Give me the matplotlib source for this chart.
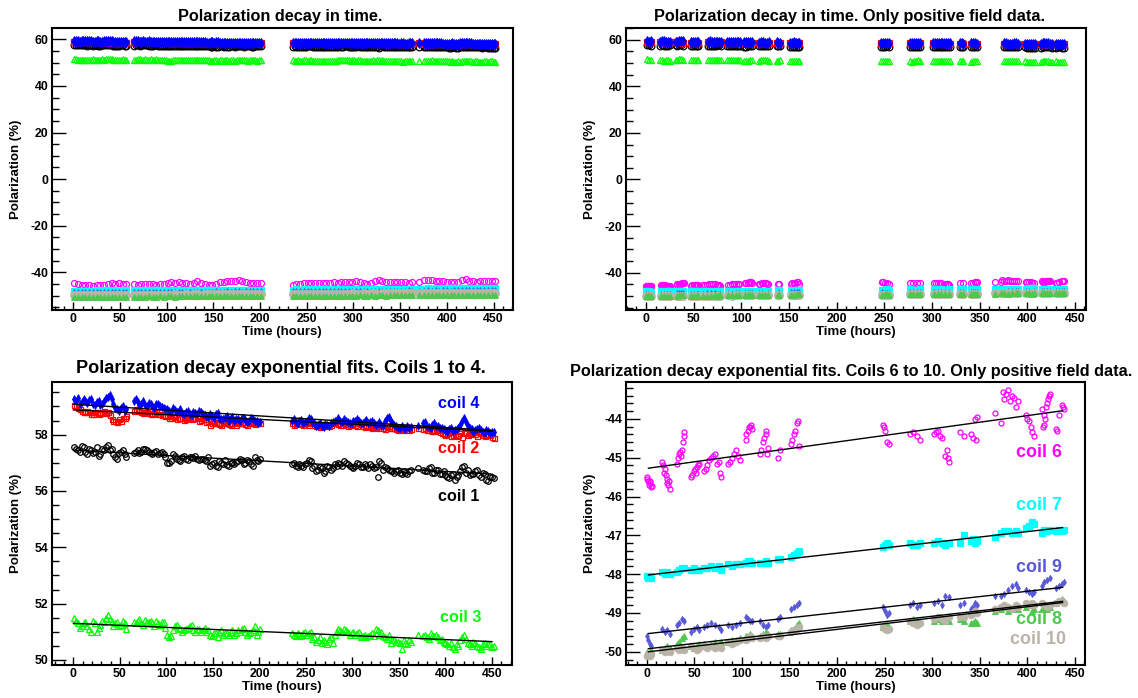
import numpy as np
import matplotlib.pyplot as plt
from matplotlib.ticker import MultipleLocator

plt.rcParams['font.family'] = ['Liberation Sans', 'DejaVu Sans']
plt.rcParams['font.weight'] = 'bold'
plt.rcParams['axes.unicode_minus'] = False

# ---- data: coils 1-4, all runs (hours) ----
full_t = [1, 5, 9, 13, 17, 21, 25, 29, 33, 37, 41, 45, 49, 53, 57,
          65, 69, 73, 77, 81, 85, 89, 93, 97, 101, 105, 109, 113, 117, 121, 125, 129, 133, 137, 141,
          145, 149, 153, 157, 161, 165, 169, 173, 177, 181, 185, 189, 193, 197, 201,
          235, 239, 243, 247, 251, 255, 259, 263, 267, 271, 275, 279, 283, 287, 291, 295, 299,
          303, 307, 311, 315, 319, 323, 327, 331, 335, 339, 343, 347, 351, 355, 359, 363,
          370, 376, 380, 384, 388, 392, 396, 400, 404, 408, 412, 416, 420, 424, 428, 432, 436, 440,
          444, 448, 452]

coil1 = [57.55, 57.45, 57.6, 57.4, 57.5, 57.35, 57.55, 57.3, 57.45, 57.62, 57.5, 57.2, 57.35, 57.45, 57.2,
         57.35, 57.45, 57.4, 57.5, 57.38, 57.3, 57.42, 57.35, 57.3, 57.0, 57.05, 57.25, 57.1, 57.2, 57.15,
         57.22, 57.18, 57.15, 57.12, 57.1, 57.2, 56.95, 56.9, 57.05, 56.95, 56.92, 57.0, 56.95, 57.05, 57.1,
         57.0, 57.05, 56.9, 57.1, 57.15,
         56.95, 56.9, 56.95, 56.85, 57.0, 57.05, 56.9, 56.75, 56.8, 56.7, 56.85, 56.8, 56.9, 56.95, 57.05,
         56.95, 56.85, 56.9, 56.95, 56.85, 56.9, 56.95, 56.8, 56.5, 57.0, 56.85, 56.75, 56.7, 56.72, 56.65,
         56.7, 56.6, 56.75,
         56.8, 56.75, 56.7, 56.85, 56.65, 56.75, 56.6, 56.55, 56.45, 56.6, 56.5, 56.7, 56.9, 56.75, 56.6,
         56.7, 56.55, 56.65, 56.4, 56.5, 56.45]
coil2 = [59.05, 58.95, 58.85, 58.8, 58.82, 58.75, 58.8, 58.78, 58.85, 58.8, 58.55, 58.5, 58.55, 58.6, 58.65,
         58.85, 58.9, 58.82, 58.8, 58.78, 58.75, 58.8, 58.72, 58.7, 58.65, 58.6, 58.62, 58.58, 58.6, 58.55,
         58.62, 58.58, 58.6, 58.52, 58.55, 58.48, 58.4, 58.45, 58.38, 58.42, 58.4, 58.35, 58.45, 58.4, 58.42,
         58.38, 58.45, 58.4, 58.42, 58.4,
         58.4, 58.38, 58.42, 58.35, 58.4, 58.45, 58.35, 58.3, 58.32, 58.35, 58.3, 58.4, 58.42, 58.35, 58.4,
         58.32, 58.38, 58.35, 58.4, 58.3, 58.35, 58.28, 58.3, 58.25, 58.35, 58.2, 58.3, 58.25, 58.2, 58.22,
         58.18, 58.25, 58.2,
         58.25, 58.2, 58.15, 58.18, 58.12, 58.15, 58.05, 58.0, 58.08, 57.98, 57.95, 58.05, 58.1, 58.0, 58.05,
         58.02, 58.1, 58.0, 57.98, 58.0, 57.88]
coil3 = [51.5, 51.3, 51.2, 51.35, 51.1, 51.4, 51.0, 51.25, 51.35, 51.6, 51.4, 51.3, 51.2, 51.4, 51.1,
         51.35, 51.4, 51.3, 51.42, 51.35, 51.3, 51.38, 51.25, 51.35, 50.9, 50.85, 51.2, 51.15, 51.0, 51.1,
         51.2, 51.05, 51.1, 51.0, 51.15, 51.05, 50.85, 50.95, 51.0, 50.9, 50.95, 51.0, 50.9, 51.05, 51.1,
         51.0, 50.95, 51.05, 50.9, 51.1,
         50.95, 50.85, 50.9, 50.95, 50.9, 51.0, 50.8, 50.7, 50.6, 50.65, 50.75, 50.6, 51.0, 51.05, 51.1,
         51.0, 50.95, 50.9, 51.0, 50.85, 50.8, 50.9, 50.85, 51.05, 51.0, 50.8, 50.9, 50.7, 50.65, 50.6,
         50.7, 50.55, 50.65,
         50.9, 50.85, 50.8, 50.95, 50.85, 50.8, 50.75, 50.6, 50.5, 50.45, 50.55, 50.7, 50.9, 50.6, 50.5,
         50.6, 50.45, 50.55, 50.5, 50.55, 50.5]
coil4 = [59.25, 59.3, 59.15, 59.2, 59.22, 59.1, 59.15, 59.05, 59.2, 59.35, 59.25, 58.95, 58.85, 59.0, 58.9,
         59.2, 59.15, 59.1, 59.05, 59.12, 59.0, 59.08, 59.02, 58.95, 58.9, 58.82, 58.88, 58.85, 58.78, 58.8,
         58.72, 58.8, 58.75, 58.82, 58.7, 58.62, 58.68, 58.72, 58.6, 58.55, 58.65, 58.58, 58.5, 58.55, 58.6,
         58.52, 58.48, 58.55, 58.5, 58.45,
         58.5, 58.45, 58.48, 58.42, 58.5, 58.55, 58.4, 58.35, 58.3, 58.38, 58.32, 58.45, 58.52, 58.5, 58.55,
         58.45, 58.42, 58.5, 58.48, 58.4, 58.52, 58.45, 58.4, 58.38, 58.35, 58.5, 58.62, 58.4, 58.3, 58.25,
         58.22, 58.3, 58.28,
         58.3, 58.4, 58.32, 58.25, 58.4, 58.3, 58.22, 58.15, 58.2, 58.12, 58.2, 58.35, 58.58, 58.3, 58.2,
         58.15, 58.22, 58.1, 58.15, 58.05, 58.1]

# in-between readings of coils 1-4
mid_t = [3, 7, 11, 15, 19, 23, 27, 31, 35, 39, 43, 47, 51, 55,
         67, 71, 75, 79, 83, 87, 91, 95, 99, 103, 107, 111, 115, 119, 123, 127, 131, 135, 139, 143,
         147, 151, 155, 159, 163, 167, 171, 175, 179, 183, 187, 191, 195, 199,
         237, 241, 245, 249, 253, 257, 261, 265, 269, 273, 277, 281, 285, 289, 293, 297, 301, 305,
         309, 313, 317, 321, 325, 329, 333, 337, 341, 345, 349, 353, 357, 361,
         378, 382, 386, 390, 394, 398, 402, 406, 410, 414, 418, 422, 426, 430, 434, 438, 442, 446, 450]
coil1_mid = [57.5, 57.4, 57.55, 57.3, 57.45, 57.4, 57.25, 57.5, 57.55, 57.45, 57.3, 57.15, 57.4, 57.3,
             57.4, 57.35, 57.5, 57.45, 57.35, 57.4, 57.3, 57.38, 57.2, 56.98, 57.3, 57.15, 57.05, 57.25,
             57.1, 57.2, 57.25, 57.1, 57.15, 57.05, 56.9, 57.0, 56.85, 57.0, 57.1, 56.9, 56.98, 57.02,
             57.15, 56.95, 57.1, 56.95, 57.2, 57.05,
             57.0, 56.85, 56.9, 56.95, 57.1, 56.8, 56.7, 56.85, 56.65, 56.9, 56.75, 56.95, 57.0, 56.9,
             57.0, 56.9, 56.8, 57.0, 56.85, 56.95, 56.8, 56.9, 56.85, 57.05, 56.75, 56.8, 56.7, 56.65,
             56.75, 56.6, 56.65, 56.7,
             56.7, 56.8, 56.65, 56.75, 56.6, 56.7, 56.5, 56.55, 56.4, 56.55, 56.85, 56.65, 56.55, 56.6,
             56.75, 56.5, 56.6, 56.35, 56.5]
coil2_mid = [59.0, 58.9, 58.8, 58.85, 58.75, 58.8, 58.72, 58.82, 58.78, 58.7, 58.5, 58.45, 58.5, 58.6,
             58.9, 58.85, 58.78, 58.82, 58.72, 58.78, 58.75, 58.7, 58.68, 58.6, 58.65, 58.55, 58.6, 58.52,
             58.6, 58.55, 58.58, 58.5, 58.55, 58.45, 58.35, 58.42, 58.4, 58.35, 58.45, 58.38, 58.42, 58.35,
             58.4, 58.45, 58.35, 58.4, 58.38, 58.45,
             58.35, 58.42, 58.38, 58.4, 58.35, 58.4, 58.32, 58.28, 58.38, 58.32, 58.35, 58.45, 58.38, 58.35,
             58.38, 58.35, 58.4, 58.32, 58.38, 58.28, 58.32, 58.25, 58.28, 58.32, 58.22, 58.28, 58.22, 58.25,
             58.18, 58.2, 58.22, 58.15,
             58.22, 58.18, 58.12, 58.2, 58.1, 58.02, 58.05, 57.95, 58.02, 57.98, 57.92, 58.05, 58.02, 58.08,
             57.95, 58.05, 57.95, 58.02, 57.9]
coil3_mid = [51.4, 51.15, 51.3, 51.2, 51.0, 51.3, 51.15, 51.4, 51.5, 51.45, 51.2, 51.35, 51.25, 51.3,
             51.3, 51.45, 51.25, 51.35, 51.4, 51.2, 51.3, 51.35, 51.15, 50.8, 51.05, 51.25, 51.1, 51.05,
             51.15, 51.25, 51.0, 51.1, 51.05, 51.0, 50.9, 50.95, 50.8, 51.05, 50.95, 50.9, 51.05, 50.95,
             51.0, 51.15, 50.9, 51.0, 51.2, 51.0,
             50.9, 50.95, 50.85, 51.0, 50.95, 50.75, 50.65, 50.8, 50.7, 50.55, 50.8, 50.9, 51.1, 51.0,
             51.05, 50.9, 51.0, 50.95, 50.8, 50.9, 50.85, 50.95, 51.1, 50.9, 50.85, 50.75, 50.6, 50.7,
             50.65, 50.4, 50.6, 50.7,
             50.9, 50.75, 50.85, 50.9, 50.7, 50.65, 50.55, 50.6, 50.4, 50.5, 50.8, 50.75, 50.55, 50.65,
             50.5, 50.4, 50.6, 50.55, 50.45]
coil4_mid = [59.2, 59.1, 59.25, 59.12, 59.28, 59.05, 59.2, 59.1, 59.3, 59.4, 59.1, 58.9, 58.95, 58.85,
             59.25, 59.05, 59.18, 59.0, 59.08, 58.95, 59.1, 58.98, 58.92, 58.85, 58.95, 58.8, 58.9, 58.75,
             58.85, 58.7, 58.78, 58.85, 58.72, 58.65, 58.75, 58.6, 58.78, 58.55, 58.6, 58.5, 58.62, 58.55,
             58.48, 58.58, 58.45, 58.6, 58.5, 58.4,
             58.55, 58.4, 58.52, 58.45, 58.58, 58.45, 58.32, 58.4, 58.28, 58.35, 58.4, 58.48, 58.6, 58.45,
             58.5, 58.4, 58.48, 58.55, 58.42, 58.48, 58.4, 58.5, 58.35, 58.45, 58.3, 58.58, 58.5, 58.35,
             58.22, 58.3, 58.2, 58.25,
             58.45, 58.28, 58.35, 58.32, 58.25, 58.2, 58.1, 58.25, 58.15, 58.25, 58.5, 58.45, 58.25, 58.1,
             58.2, 58.15, 58.05, 58.12, 58.08]

# ---- coils 6-10, all runs ----
coil6_all = [-44.8, -45.0, -45.3, -45.5, -45.6, -45.7, -45.6, -45.4, -45.3, -45.0, -44.8, -44.9, -44.8, -45.0, -45.2,
             -45.2, -45.3, -45.1, -45.2, -45.0, -45.1, -45.3, -45.0, -44.9, -44.6, -44.3, -44.5, -44.2, -44.7, -44.4,
             -44.9, -44.8, -43.9, -44.5, -45.2, -45.4, -45.3, -44.9, -44.3, -44.0, -43.8, -43.6, -43.7, -43.5, -43.8,
             -44.1, -44.4, -44.6, -44.5, -44.7,
             -45.3, -45.2, -45.0, -44.8, -44.6, -44.5, -44.6, -44.4, -44.5, -44.6, -44.5, -44.3, -44.4, -44.3, -44.2,
             -44.1, -44.0, -43.8, -44.2, -44.6, -45.0, -44.4, -43.6, -43.2, -43.9, -44.2, -44.3, -44.1, -44.0, -44.2,
             -44.3, -44.4, -44.2,
             -44.1, -43.4, -43.3, -43.5, -43.6, -43.8, -43.9, -44.0, -44.1, -44.2, -44.0, -43.5, -43.0, -43.6, -43.9,
             -44.0, -43.8, -43.7, -43.9, -43.8, -43.7]
coil7_all = [-47.9, -48.0, -47.9, -48.0, -47.9, -47.9, -47.8, -47.9, -47.8, -47.8, -47.9, -47.8, -47.9, -47.8, -47.8,
             -47.8, -47.9, -47.8, -47.8, -47.7, -47.8, -47.7, -47.7, -47.8, -47.7, -47.6, -47.7, -47.6, -47.7, -47.6,
             -47.6, -47.7, -47.6, -47.5, -47.6, -47.6, -47.5, -47.5, -47.6, -47.5, -47.5, -47.4, -47.5, -47.4, -47.5,
             -47.4, -47.4, -47.5, -47.4, -47.4,
             -47.4, -47.3, -47.4, -47.3, -47.3, -47.4, -47.3, -47.3, -47.2, -47.3, -47.3, -47.2, -47.3, -47.2, -47.2,
             -47.3, -47.2, -47.2, -47.1, -47.2, -47.2, -47.3, -47.1, -47.2, -47.1, -47.2, -47.1, -47.1, -47.2, -47.1,
             -47.1, -47.0, -47.1,
             -47.1, -47.0, -46.9, -47.0, -46.9, -47.0, -46.9, -46.8, -46.9, -46.8, -46.9, -46.9, -46.8, -46.9, -46.8,
             -46.9, -46.8, -46.8, -46.9, -46.8, -46.8]
coil8_all = [-50.6, -50.7, -50.6, -50.6, -50.7, -50.6, -50.6, -50.5, -50.6, -50.6, -50.5, -50.6, -50.5, -50.6, -50.5,
             -50.5, -50.6, -50.5, -50.5, -50.4, -50.5, -50.5, -50.4, -50.5, -50.4, -50.4, -50.5, -50.4, -50.4, -50.3,
             -50.4, -50.4, -50.3, -50.4, -50.3, -50.3, -50.4, -50.3, -50.3, -50.2, -50.3, -50.3, -50.2, -50.3, -50.2,
             -50.2, -50.3, -50.2, -50.2, -50.2,
             -50.2, -50.1, -50.2, -50.1, -50.1, -50.2, -50.1, -50.1, -50.0, -50.1, -50.1, -50.0, -50.1, -50.0, -50.0,
             -50.1, -50.0, -50.0, -49.9, -50.0, -50.0, -49.9, -50.0, -49.9, -49.9, -50.0, -49.9, -49.9, -49.8, -49.9,
             -49.9, -49.8, -49.9,
             -49.9, -49.8, -49.9, -49.8, -49.8, -49.9, -49.8, -49.8, -49.7, -49.8, -49.8, -49.7, -49.8, -49.7, -49.7,
             -49.8, -49.7, -49.7, -49.7, -49.6, -49.7]
coil9_all = [-49.1, -49.0, -49.1, -49.0, -49.0, -49.1, -49.0, -48.9, -49.0, -48.9, -49.0, -48.9, -49.0, -48.9, -48.9,
             -48.9, -49.0, -48.9, -48.9, -48.8, -48.9, -48.9, -48.8, -48.8, -48.9, -48.8, -48.8, -48.7, -48.8, -48.8,
             -48.7, -48.8, -48.7, -48.7, -48.8, -48.7, -48.7, -48.6, -48.7, -48.7, -48.6, -48.7, -48.6, -48.6, -48.7,
             -48.6, -48.6, -48.5, -48.6, -48.6,
             -48.6, -48.5, -48.6, -48.5, -48.5, -48.6, -48.5, -48.5, -48.4, -48.5, -48.5, -48.4, -48.5, -48.4, -48.4,
             -48.5, -48.4, -48.4, -48.4, -48.3, -48.4, -48.4, -48.3, -48.4, -48.3, -48.4, -48.3, -48.3, -48.4, -48.3,
             -48.3, -48.2, -48.3,
             -48.3, -48.3, -48.2, -48.3, -48.2, -48.3, -48.2, -48.2, -48.3, -48.2, -48.2, -48.1, -48.2, -48.2, -48.1,
             -48.2, -48.1, -48.2, -48.1, -48.1, -48.2]
coil10_all = [-49.8, -49.9, -49.8, -49.9, -49.8, -49.8, -49.9, -49.8, -49.8, -49.7, -49.8, -49.7, -49.8, -49.7, -49.8,
              -49.7, -49.8, -49.7, -49.7, -49.6, -49.7, -49.7, -49.6, -49.7, -49.6, -49.6, -49.5, -49.6, -49.6, -49.5,
              -49.6, -49.5, -49.5, -49.6, -49.5, -49.5, -49.4, -49.5, -49.5, -49.4, -49.5, -49.4, -49.4, -49.5, -49.4,
              -49.4, -49.3, -49.4, -49.4, -49.3,
              -49.4, -49.3, -49.4, -49.3, -49.3, -49.4, -49.3, -49.2, -49.3, -49.3, -49.2, -49.3, -49.2, -49.2, -49.3,
              -49.2, -49.1, -49.2, -49.2, -49.1, -49.2, -49.1, -49.1, -49.2, -49.1, -49.1, -49.0, -49.1, -49.1, -49.0,
              -49.1, -49.0, -49.0,
              -49.0, -49.0, -48.9, -49.0, -48.9, -48.9, -49.0, -48.9, -48.9, -48.8, -48.9, -48.9, -48.8, -48.9, -48.8,
              -48.8, -48.9, -48.8, -48.8, -48.8, -48.7]

# ---- positive field runs ----
pos_windows = [(0, 6), (15, 26), (31, 40), (46, 56), (59, 79), (85, 99), (103, 112), (118, 130), (137, 142),
               (151, 161), (247, 256), (276, 288), (301, 319), (328, 334), (340, 348), (365, 368), (371, 391),
               (398, 408), (414, 426), (429, 439)]

pos_t = [0.5, 2, 3.5, 5, 16, 19, 22, 25, 32, 34.5, 37, 39, 47, 50, 53, 55, 60, 64, 68, 72, 76, 78,
         86, 90, 94, 98, 104, 106.5, 109, 111, 119, 122, 125, 128, 138, 140, 152, 155, 158, 160,
         248, 250.5, 253, 255, 277, 280, 284, 287, 302, 306, 310, 314, 318, 329, 333, 341, 343, 345, 347,
         366, 372, 376, 380, 384, 388, 390, 399, 402, 405, 407, 415, 418, 421, 424, 430, 433, 436, 438]

coil6 = [-45.5, -45.6, -45.65, -45.75, -45.1, -45.3, -45.55, -45.8, -45.15, -44.9, -44.8, -44.45,
         -45.5, -45.35, -45.25, -45.15, -45.35, -45.2, -45.0, -44.9, -45.1, -45.5,
         -45.15, -45.0, -44.8, -45.05, -44.55, -44.3, -44.2, -44.25, -44.9, -44.6, -44.3, -44.75,
         -45.0, -44.8, -44.65, -44.4, -44.1, -44.7,
         -44.15, -44.3, -44.6, -44.65, -44.4, -44.35, -44.45, -44.55, -44.4, -44.3, -44.5, -44.95, -45.1,
         -44.35, -44.45, -44.4, -44.5, -44.0, -43.95, -43.85, -44.1, -43.5, -43.25, -43.4, -43.7, -43.55,
         -43.9, -44.05, -44.35, -44.45, -43.75, -44.15, -43.6, -43.35, -44.25, -43.9, -43.65, -43.75]
coil7 = [-48.05, -48.1, -48.05, -48.1, -47.95, -48.0, -47.95, -48.0, -47.95, -47.9, -47.85, -47.85,
         -47.9, -47.85, -47.9, -47.9, -47.85, -47.85, -47.8, -47.85, -47.8, -47.9,
         -47.75, -47.8, -47.75, -47.75, -47.7, -47.65, -47.65, -47.7, -47.7, -47.7, -47.65, -47.7,
         -47.6, -47.6, -47.55, -47.5, -47.45, -47.4,
         -47.3, -47.25, -47.2, -47.25, -47.2, -47.25, -47.25, -47.2, -47.2, -47.15, -47.2, -47.25, -47.2,
         -47.2, -47.0, -47.15, -47.1, -47.2, -47.15, -47.05, -46.95, -46.9, -46.9, -46.95, -46.9, -46.95,
         -46.8, -46.75, -46.65, -46.7, -46.95, -46.85, -46.9, -46.85, -46.9, -46.85, -46.9, -46.85]
coil8 = [-50.0, -50.05, -50.0, -49.95, -49.95, -49.9, -49.85, -49.9, -49.8, -49.75, -49.65, -49.6,
         -49.85, -49.9, -49.85, -49.8, -49.8, -49.85, -49.8, -49.75, -49.8, -49.75,
         -49.75, -49.7, -49.7, -49.65, -49.6, -49.6, -49.55, -49.6, -49.6, -49.55, -49.5, -49.55,
         -49.55, -49.55, -49.45, -49.4, -49.3, -49.25,
         -49.35, -49.3, -49.3, -49.35, -49.2, -49.15, -49.2, -49.2, -49.2, -49.15, -49.2, -49.15, -49.2,
         -49.15, -49.2, -49.25, -49.25, -49.2, -49.25, -48.95, -48.9, -48.85, -48.95, -48.9, -48.85, -48.9,
         -48.85, -48.8, -48.95, -48.9, -48.9, -48.85, -48.9, -48.85, -48.75, -48.7, -48.65, -48.7]
coil9 = [-49.6, -49.7, -49.8, -49.85, -49.4, -49.5, -49.45, -49.55, -49.3, -49.25, -49.15, -49.2,
         -49.5, -49.4, -49.35, -49.45, -49.35, -49.3, -49.25, -49.3, -49.35, -49.45,
         -49.3, -49.35, -49.3, -49.25, -49.1, -49.15, -49.2, -49.2, -49.2, -49.3, -49.35, -49.3,
         -49.15, -49.1, -48.9, -48.85, -48.8, -48.75,
         -48.85, -48.95, -49.05, -49.0, -48.8, -48.75, -48.85, -48.8, -48.75, -48.7, -48.8, -48.55, -48.6,
         -48.8, -48.75, -48.9, -48.85, -48.75, -48.8, -48.55, -48.55, -48.5, -48.4, -48.3, -48.25, -48.35,
         -48.4, -48.45, -48.5, -48.45, -48.3, -48.2, -48.15, -48.1, -48.35, -48.3, -48.25, -48.2]
coil10 = [-50.1, -50.05, -50.1, -50.05, -49.95, -50.0, -49.95, -50.0, -49.9, -49.95, -49.9, -49.95,
          -49.85, -49.9, -49.95, -49.9, -49.85, -49.9, -49.85, -49.9, -49.85, -49.9,
          -49.75, -49.8, -49.75, -49.7, -49.7, -49.65, -49.6, -49.65, -49.65, -49.6, -49.65, -49.6,
          -49.6, -49.6, -49.5, -49.45, -49.4, -49.35,
          -49.35, -49.4, -49.45, -49.4, -49.2, -49.25, -49.3, -49.25, -49.15, -49.1, -49.15, -49.2, -49.1,
          -49.1, -49.1, -49.05, -49.0, -48.95, -49.0, -48.9, -48.85, -48.8, -48.85, -48.9, -48.8, -48.85,
          -48.75, -48.8, -48.75, -48.8, -48.75, -48.8, -48.85, -48.8, -48.75, -48.7, -48.7, -48.75]

# extra coil 6 readings inside the runs (streaks)
coil6_x_t = [1, 2.5, 4, 5.5, 17, 18, 20, 21, 23, 24, 33, 35.5, 36, 38, 39.5, 48, 51, 52, 54,
             62, 66, 70, 74, 77, 88, 92, 96, 105, 108, 110, 120, 123, 126, 127, 153, 156, 159,
             249, 304, 308, 316, 317, 346, 374, 378, 382, 386, 400, 404,
             416, 417, 419, 420, 422, 423, 431, 437]
coil6_x = [-45.55, -45.7, -45.6, -45.72, -45.2, -45.4, -45.45, -45.65, -45.7, -45.6,
           -45.0, -44.85, -44.95, -44.6, -44.35, -45.45, -45.3, -45.4, -45.2,
           -45.3, -45.05, -44.95, -45.15, -45.4, -45.1, -44.9, -44.95, -44.4, -44.2, -44.15,
           -44.8, -44.5, -44.4, -44.9, -44.55, -44.3, -44.05,
           -44.2, -44.35, -44.45, -44.8, -45.0, -44.55, -43.3, -43.35, -43.55, -43.45, -44.0, -44.2,
           -44.2, -43.9, -44.0, -43.7, -43.5, -43.4, -44.3, -43.7]

# ---- exponential fit curves (end points) ----
fit_t14 = [0, 450]
fit14 = {'coil 4': [59.08, 58.15], 'coil 2': [58.88, 58.12], 'coil 1': [57.45, 56.6], 'coil 3': [51.3, 50.65]}
fit_t610 = [2, 437]
fit610 = {'coil 6': [-45.27, -43.79], 'coil 7': [-48.02, -46.8], 'coil 9': [-49.53, -48.34],
          'coil 8': [-49.92, -48.7], 'coil 10': [-50.0, -48.73]}

# styles
sty = {
    'coil 1': dict(marker='o', mec='black', mfc='none', ms=4, mew=0.9),
    'coil 2': dict(marker='s', mec='#ff0000', mfc='none', ms=3.6, mew=0.9),
    'coil 3': dict(marker='^', mec='#00ff00', mfc='none', ms=4, mew=0.9),
    'coil 4': dict(marker='d', mec='#0000ff', mfc='#0000ff', ms=4, mew=0.6),
    'coil 6': dict(marker='o', mec='#ff00ff', mfc='none', ms=3.6, mew=0.9),
    'coil 7': dict(marker='s', mec='#00ffff', mfc='#00ffff', ms=3.8, mew=0.9),
    'coil 8': dict(marker='^', mec='#4cc84c', mfc='#4cc84c', ms=4, mew=0.6),
    'coil 9': dict(marker='d', mec='#5858d8', mfc='#5858d8', ms=3.2, mew=0.6),
    'coil 10': dict(marker='o', mec='#bab3a8', mfc='#bab3a8', ms=4.8, mew=0.6),
}

W, H = 1138, 698
fig = plt.figure(figsize=(W / 100, H / 100), dpi=100)


def frame(l, t, r, b):
    return fig.add_axes([l / W, 1 - b / H, (r - l) / W, (b - t) / H])


def style(ax, xlim, ylim, ymaj, ymin):
    ax.set_xlim(*xlim)
    ax.set_ylim(*ylim)
    ax.xaxis.set_major_locator(MultipleLocator(50))
    ax.xaxis.set_minor_locator(MultipleLocator(10))
    ax.yaxis.set_major_locator(MultipleLocator(ymaj))
    ax.yaxis.set_minor_locator(MultipleLocator(ymin))
    ax.tick_params(which='both', direction='in', top=False, right=False, width=1, labelsize=8.8, pad=2.5)
    ax.tick_params(axis='y', which='major', length=10)
    ax.tick_params(axis='y', which='minor', length=5)
    ax.tick_params(axis='x', which='major', length=6)
    ax.tick_params(axis='x', which='minor', length=3)
    for lab in ax.get_xticklabels() + ax.get_yticklabels():
        lab.set_fontweight('bold')
    for s in ax.spines.values():
        s.set_linewidth(1.5)
    ax.set_xlabel('Time (hours)', fontsize=9.5, fontweight='bold')
    ax.set_ylabel('Polarization (%)', fontsize=9.5, fontweight='bold')
    ax.xaxis.set_label_coords(0.5, -0.058)
    pos = ax.get_position()
    ax.yaxis.set_label_coords(-30 / (pos.width * W), 0.5)


def pts(ax, t, v, name, scale=1.0):
    s = dict(sty[name])
    s['ms'] = s['ms'] * scale
    ax.plot(t, v, ls='none', **s)


# all readings of coils 1-4 (regular + in-between)
t14 = np.array(full_t + mid_t)
full = {'coil 1': np.array(coil1 + coil1_mid), 'coil 2': np.array(coil2 + coil2_mid),
        'coil 3': np.array(coil3 + coil3_mid), 'coil 4': np.array(coil4 + coil4_mid)}
neg_all = {'coil 6': coil6_all, 'coil 7': coil7_all, 'coil 9': coil9_all, 'coil 10': coil10_all,
           'coil 8': coil8_all}
pos = {'coil 6': coil6, 'coil 7': coil7, 'coil 9': coil9, 'coil 10': coil10, 'coil 8': coil8}

mask = np.zeros(len(t14), bool)
for a, b in pos_windows:
    mask |= (t14 >= a) & (t14 <= b)

# top left
ax1 = frame(52, 28, 512.6, 310)
for k, v in full.items():
    pts(ax1, t14, v, k, 1.2)
for k, v in neg_all.items():
    pts(ax1, full_t, v, k, 1.2)
style(ax1, (-22.7, 470.4), (-56.2, 64.9), 20, 5)

# top right
ax2 = frame(625.6, 28, 1086, 310)
for k, v in full.items():
    pts(ax2, t14[mask], v[mask], k, 1.2)
pts(ax2, coil6_x_t, coil6_x, 'coil 6', 1.2)
for k, v in pos.items():
    pts(ax2, pos_t, v, k, 1.2)
style(ax2, (-21.4, 461.6), (-56, 65), 20, 5)

# bottom left
ax3 = frame(52, 382, 511.5, 665)
for k in ['coil 1', 'coil 3', 'coil 2', 'coil 4']:
    pts(ax3, t14, full[k], k)
for k, v in fit14.items():
    ax3.plot(fit_t14, v, color='black', lw=1)
style(ax3, (-23, 471), (49.82, 59.87), 2, 0.5)
lab14 = {'coil 4': (436, 59.1, '#0000ff'), 'coil 2': (436, 57.5, '#ff0000'),
         'coil 1': (436, 55.82, 'black'), 'coil 3': (439, 51.49, '#00ff00')}
for k, (x, y, c) in lab14.items():
    ax3.text(x, y, k, color=c, fontsize=11.6, fontweight='bold', ha='right', va='center')

# bottom right
ax4 = frame(625.6, 382, 1085.4, 665)
pts(ax4, coil6_x_t, coil6_x, 'coil 6')
for k in ['coil 6', 'coil 7', 'coil 9', 'coil 8', 'coil 10']:
    pts(ax4, pos_t, pos[k], k)
for k, v in fit610.items():
    ax4.plot(fit_t610, v, color='black', lw=1)
style(ax4, (-22, 461), (-50.34, -43.05), 1, 0.2)
lab610 = {'coil 6': (436, -44.86, '#ff00ff'), 'coil 7': (436, -46.24, '#00ffff'),
          'coil 9': (436, -47.83, '#5858d8'), 'coil 8': (436, -49.18, '#4cc84c'),
          'coil 10': (441, -49.68, '#bab3a8')}
for k, (x, y, c) in lab610.items():
    ax4.text(x, y, k, color=c, fontsize=12.9, fontweight='bold', ha='right', va='center')

# titles
fig.text(280 / W, 1 - 20.5 / H, 'Polarization decay in time.', ha='center', va='baseline',
         fontsize=11.7, fontweight='bold')
fig.text(850 / W, 1 - 20.5 / H, 'Polarization decay in time. Only positive field data.', ha='center',
         va='baseline', fontsize=11.7, fontweight='bold')
fig.text(281 / W, 1 - 373 / H, 'Polarization decay exponential fits. Coils 1 to 4.', ha='center',
         va='baseline', fontsize=13.1, fontweight='bold')
fig.text(851 / W, 1 - 376 / H, 'Polarization decay exponential fits. Coils 6 to 10. Only positive field data.',
         ha='center', va='baseline', fontsize=11.7, fontweight='bold')

fig.savefig('out.png', dpi=100)
